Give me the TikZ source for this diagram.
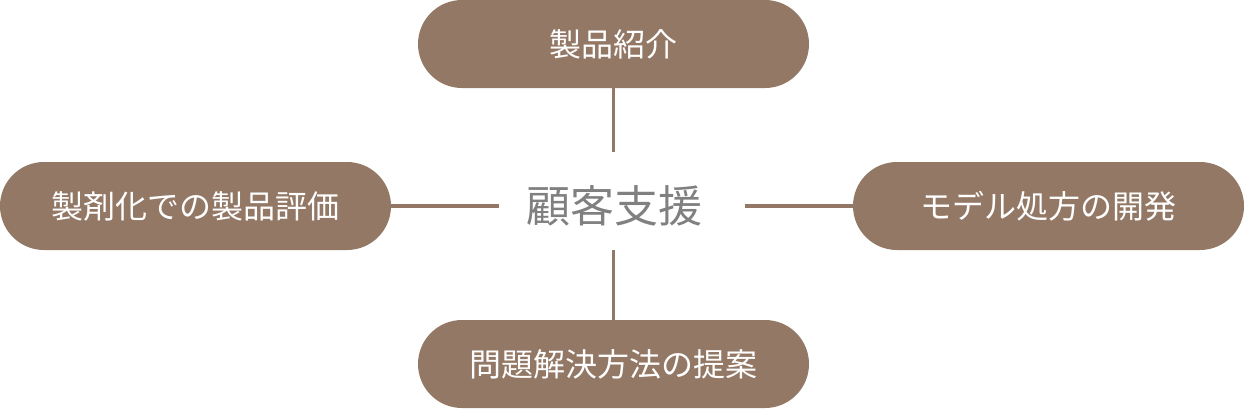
\documentclass[tikz,border=0pt]{standalone}
\usepackage{fontspec}
\newfontfamily\cjk{Noto Sans CJK JP}
\definecolor{brn}{HTML}{937866}
\definecolor{gry}{HTML}{808080}
\begin{document}
\begin{tikzpicture}[x=1pt,y=-1pt,
  pill/.style={fill=brn, draw=none, rounded corners=44pt, minimum width=391pt, minimum height=88pt, inner sep=0pt, text=white, font=\cjk\fontsize{32}{36}\selectfont},
  link/.style={draw=brn, line width=3.5pt}]
\useasboundingbox (0,0) rectangle (1244,408);
\node[pill] (top) at (613.5,44) {製品紹介};
\node[pill] (left) at (195.5,206) {製剤化での製品評価};
\node[pill] (right) at (1048.5,206) {モデル処方の開発};
\node[pill] (bottom) at (613.5,364) {問題解決方法の提案};
\node[text=gry, font=\cjk\fontsize{44}{50}\selectfont, inner sep=0pt] (center) at (614,206) {顧客支援};
\coordinate (ct) at (613.5,152);
\coordinate (cb) at (613.5,250);
\coordinate (cl) at (499,206);
\coordinate (cr) at (745,206);
\draw[link] (top.south) -- (ct);
\draw[link] (bottom.north) -- (cb);
\draw[link] (left.east) -- (cl);
\draw[link] (right.west) -- (cr);
\end{tikzpicture}
\end{document}
